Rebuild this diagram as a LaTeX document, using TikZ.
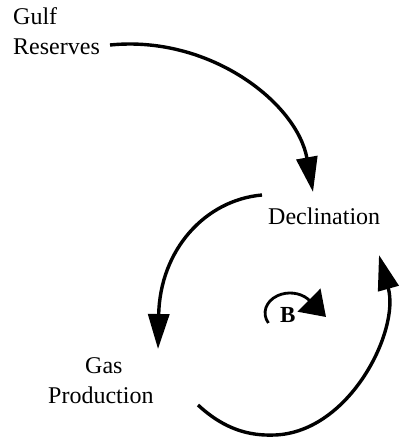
\documentclass[tikz,border=0pt]{standalone}
\usepackage{fontspec}
\setmainfont{Liberation Serif}
\usetikzlibrary{arrows.meta}
\begin{document}
\begin{tikzpicture}[x=1pt,y=-1pt,
  label/.style={inner sep=0pt,anchor=base west,font=\fontsize{24}{30}\selectfont},
  link/.style={line width=3.4pt,-{Triangle[length=35pt,width=21pt]}},
  loopmark/.style={line width=2.8pt,-{Triangle[length=24pt,width=32pt]}}]
\useasboundingbox (0,0) rectangle (403,438);

% variables
\node[label] (gulf) at (13,25) {Gulf};
\node[label] (reserves) at (13,55) {Reserves};
\node[label] (decl) at (268,224) {Declination};
\node[label] (gas) at (85,373) {Gas};
\node[label] (prod) at (48,403) {Production};
\node[label,font=\bfseries\fontsize{23}{26}\selectfont] (bal) at (280,322) {B};

% connector end points
\coordinate (resOut) at (110,45);
\coordinate (declIn) at (313,192);
\coordinate (declOut) at (262,195);
\coordinate (prodIn) at (158,349);
\coordinate (prodOut) at (198,405);
\coordinate (declIn2) at (379,255);

% causal links
\draw[link] (resOut) .. controls (210,35) and (297,103) .. (declIn);
\draw[link] (declOut) .. controls (205,200) and (160,250) .. (prodIn);
\draw[link] (prodOut) .. controls (225,430) and (250,436) .. (275,435)
  .. controls (350,432) and (400,330) .. (declIn2);

% balancing loop marker
\draw[loopmark] (268.4,323) arc[start angle=150,end angle=315,x radius=25,y radius=20]
  -- (326,317);
\end{tikzpicture}
\end{document}
